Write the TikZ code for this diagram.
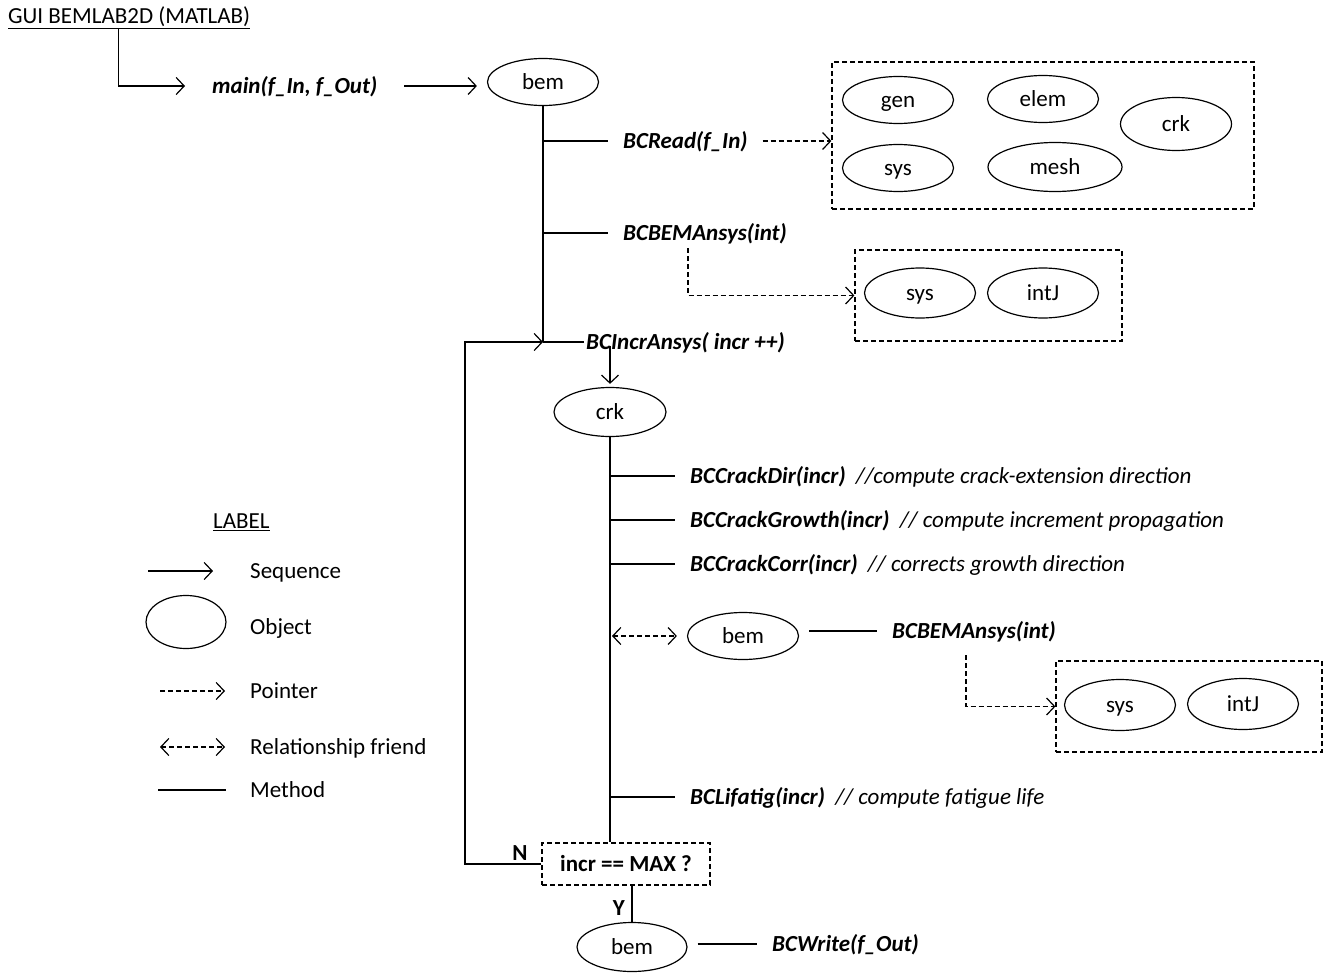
\documentclass[tikz,border=0pt]{standalone}
\usepackage{fontspec}
\setmainfont{Carlito}
\usetikzlibrary{arrows.meta,shapes.geometric}
% method call: bold-italic name followed by an italic comment
\newcommand\mcall[2]{\textbf{\textit{#1}}\hspace{0.45em}\textit{#2}}
\begin{document}
\begin{tikzpicture}[x=1pt,y=-1pt,
  every node/.style={font=\fontsize{23}{27}\selectfont},
  wire/.style={line width=1.2pt},
  tip/.tip={Straight Barb[length=8pt,width=17pt]},
  seq/.style={wire,-tip},
  ptr/.style={wire,dash pattern=on 5pt off 3pt,-tip},
  friend/.style={wire,dash pattern=on 5pt off 3pt,tip-tip},
  obj/.style={ellipse,draw,line width=1.2pt,minimum width=111pt,minimum height=47pt,inner sep=0pt,
    text height=18pt,text depth=4pt},
  dbox/.style={draw,line width=1.2pt,dash pattern=on 5pt off 3pt,inner sep=0pt},
  txt/.style={text height=17pt,text depth=2pt},
  lbl/.style={txt,anchor=west,inner xsep=15pt,inner ysep=2pt},
  plain/.style={anchor=west,inner sep=0pt},
  key/.style={plain,txt}
]
\useasboundingbox (0,0) rectangle (1325,974);

% ---- entry point ----
\node[plain] (title) at (8,18) {\underline{GUI BEMLAB2D (MATLAB)}};
\node[txt,anchor=west,inner xsep=27pt,inner ysep=2pt] (main) at (185,86) {\textbf{\textit{main(f\_In, f\_Out)}}};
\draw[seq] ([xshift=-11pt]title.south) |- (main.west);
\node[obj] (bem1) at (543,82) {bem};
\draw[seq,shorten >=10pt] (main.east) -- (main.east -| bem1.west);

% ---- main trunk of bem ----
\coordinate (jn) at (543,342);
\draw[wire] (bem1.south) -- (jn);

\node[lbl] (read) at (608,141) {\textbf{\textit{BCRead(f\_In)}}};
\draw[wire] (read.west -| jn) -- (read.west);
\node[dbox,minimum width=422pt,minimum height=147pt] (box1) at (1043,135.5) {};
\draw[ptr] (read.east) -- (read.east -| box1.west);
\node[obj] (gen) at (898,100) {gen};
\node[obj] (elem) at (1043,99) {elem};
\node[obj,minimum height=53pt] (crk1) at (1176,124) {crk};
\node[obj] (sys1) at (898,168) {sys};
\node[obj,minimum width=134pt,minimum height=49pt] (mesh) at (1055,167) {mesh};

\node[lbl] (ans1) at (608,233) {\textbf{\textit{BCBEMAnsys(int)}}};
\draw[wire] (ans1.west -| jn) -- (ans1.west);
\node[dbox,minimum width=267pt,minimum height=91pt] (box2) at (988.5,295.5) {};
\coordinate (p1) at (688,248);
\draw[ptr] (p1) |- (box2.west);
\node[obj,minimum height=50pt] (sys2) at (920,293) {sys};
\node[obj,minimum height=50pt] (intj2) at (1043,293) {intJ};

% ---- increment loop ----
\node[dbox,minimum width=168pt,minimum height=42pt] (dec) at (626,864) {\textbf{incr == MAX ?}};
\coordinate (lc) at (465,864);
\node[txt,anchor=west,inner sep=2pt] (incr) at (584,342) {\textbf{\textit{BCIncrAnsys( incr ++)}}};
\draw[seq] (dec.west) -- (lc) |- (jn);
\draw[wire] (jn) -- (incr.west);
\node[anchor=center,inner sep=0pt] (nlab) at (520,853) {\textbf{N}};

\node[obj,minimum width=112pt,minimum height=49pt] (crk2) at (610,412) {crk};
\draw[seq,shorten >=3pt] ([yshift=8pt]incr.south -| crk2.north) -- (crk2.north);
\draw[wire] (crk2.south) -- (crk2.south |- dec.north);

\node[lbl] (dir) at (675,476) {\mcall{BCCrackDir(incr)}{//compute crack-extension direction}};
\draw[wire] (dir.west -| crk2.south) -- (dir.west);
\node[lbl] (growth) at (675,520) {\mcall{BCCrackGrowth(incr)}{// compute increment propagation}};
\draw[wire] (growth.west -| crk2.south) -- (growth.west);
\node[lbl] (corr) at (675,564) {\mcall{BCCrackCorr(incr)}{// corrects growth direction}};
\draw[wire] (corr.west -| crk2.south) -- (corr.west);

\node[obj] (bem2) at (743,636) {bem};
\draw[friend,shorten >=10pt,shorten <=2pt] (bem2.west -| crk2.south) -- (bem2.west);
\node[lbl] (ans2) at (877,631) {\textbf{\textit{BCBEMAnsys(int)}}};
\draw[wire] ([xshift=10pt]bem2.east |- ans2.west) -- (ans2.west);
\node[dbox,minimum width=266pt,minimum height=91pt] (box3) at (1189,706.5) {};
\coordinate (p2) at (966,655);
\draw[ptr] (p2) |- (box3.west);
\node[obj,minimum height=51pt] (sys3) at (1120,705) {sys};
\node[obj,minimum height=51pt] (intj3) at (1243,704) {intJ};

\node[lbl] (lifa) at (675,797) {\mcall{BCLifatig(incr)}{// compute fatigue life}};
\draw[wire] (lifa.west -| crk2.south) -- (lifa.west);

% ---- exit ----
\node[obj,minimum width=110pt,minimum height=49pt] (bem3) at (632,947) {bem};
\draw[wire] (dec.south -| bem3.north) -- (bem3.north);
\node[anchor=center,inner sep=0pt] (ylab) at (619,908) {\textbf{Y}};
\node[lbl] (wr) at (757,944) {\textbf{\textit{BCWrite(f\_Out)}}};
\draw[wire] ([xshift=10pt]bem3.east |- wr.west) -- (wr.west);

% ---- legend ----
\node[plain] (lab) at (213,522) {\underline{LABEL}};
\node[key] (lseq) at (250,571) {Sequence};
\draw[seq] ([xshift=-102pt]lseq.west) -- ([xshift=-37pt]lseq.west);
\node[obj,minimum width=80pt,minimum height=53pt] (lobj) at (186,622) {};
\node[key] (lobjt) at (250,627) {Object};
\node[key] (lptr) at (250,691) {Pointer};
\draw[ptr] ([xshift=-90pt]lptr.west) -- ([xshift=-25pt]lptr.west);
\node[key] (lfr) at (250,747) {Relationship friend};
\draw[friend] ([xshift=-90pt]lfr.west) -- ([xshift=-25pt]lfr.west);
\node[key] (lmet) at (250,790) {Method};
\draw[wire] ([xshift=-92pt]lmet.west) -- ([xshift=-24pt]lmet.west);
\end{tikzpicture}
\end{document}
